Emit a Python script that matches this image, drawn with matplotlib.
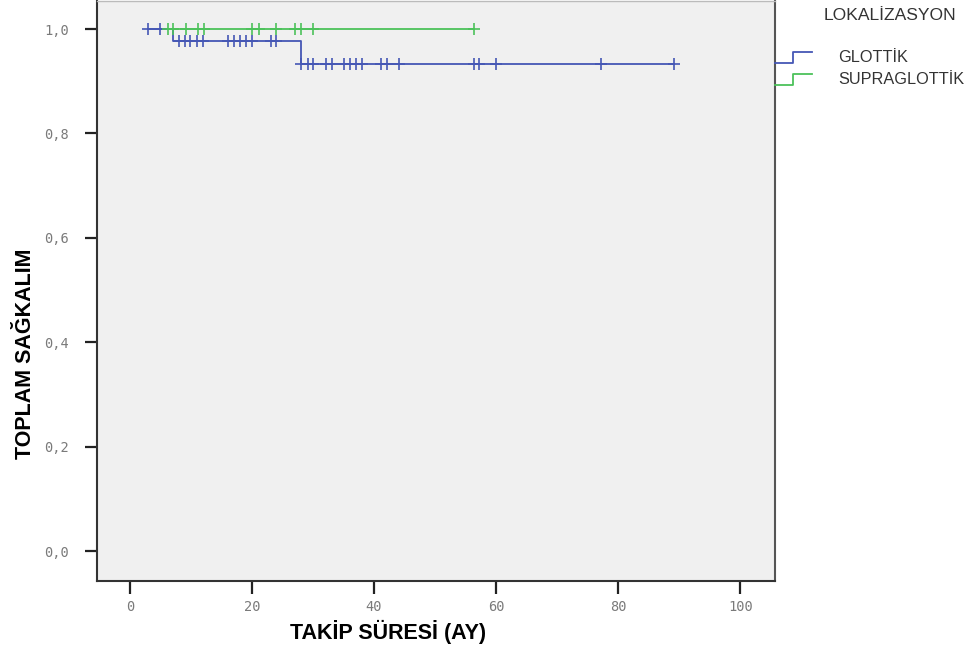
import matplotlib
matplotlib.use("Agg")
import matplotlib.pyplot as plt
from matplotlib.lines import Line2D

# GLOTTİK curve (blue)
glot_steps = [3.0, 7.1, 28.1, 89.2]
glot_surv = [1.0, 0.977, 0.9325, 0.9325]
glot_cens = [3.0, 5.0, 8.0, 9.0, 9.9, 11.0, 12.0, 16.1, 17.0, 18.0, 19.0, 20.0,
             23.1, 23.9, 28.1, 29.1, 30.0, 32.1, 33.1, 35.1, 36.1, 37.0, 38.0,
             41.1, 42.1, 44.1, 56.3, 57.2, 60.0, 77.2, 89.2]

# SUPRAGLOTTİK curve (green)
supra_steps = [6.3, 56.3]
supra_surv = [1.0, 1.0]
supra_cens = [6.3, 7.1, 9.1, 11.2, 12.1, 20.0, 21.1, 24.0, 27.0, 28.0, 30.0, 56.3]

x_ticks = [0, 20, 40, 60, 80, 100]
y_ticks = [0.0, 0.2, 0.4, 0.6, 0.8, 1.0]
y_ticklabels = ["0,0", "0,2", "0,4", "0,6", "0,8", "1,0"]

groups = ["GLOTTİK", "SUPRAGLOTTİK"]
colors = ["#4557b5", "#4cc25a"]


def surv_at(t, steps, surv):
    s = surv[0]
    for tt, ss in zip(steps, surv):
        if t >= tt:
            s = ss
    return s


fig = plt.figure(figsize=(9.79, 6.56), dpi=100)
ax = fig.add_axes([0.0991, 0.1143, 0.6925, 0.8847])
ax.set_facecolor("#f0f0f0")

for steps, surv, cens, c in [(glot_steps, glot_surv, glot_cens, colors[0]),
                             (supra_steps, supra_surv, supra_cens, colors[1])]:
    ax.step(steps, surv, where="post", color=c, lw=1.3)
    ax.plot(cens, [surv_at(t, steps, surv) for t in cens], ls="none",
            marker="+", ms=9, mew=1.2, color=c)

ax.set_xlim(-5.4, 105.7)
ax.set_ylim(-0.0574, 1.0545)
ax.set_xticks(x_ticks)
ax.set_xticklabels([str(v) for v in x_ticks])
ax.set_yticks(y_ticks)
ax.set_yticklabels(y_ticklabels)

for lab in ax.get_xticklabels() + ax.get_yticklabels():
    lab.set_fontfamily("DejaVu Sans Mono")
    lab.set_fontsize(9.8)
    lab.set_color("#7a7a7a")
ax.tick_params(axis="x", length=9, width=1.6, color="#222222", pad=5)
ax.tick_params(axis="y", length=9, width=1.6, color="#222222", pad=11)

for side in ["left", "bottom"]:
    ax.spines[side].set_color("#333333")
    ax.spines[side].set_linewidth(1.5)
ax.spines["right"].set_color("#555555")
ax.spines["right"].set_linewidth(1.5)
ax.spines["top"].set_color("#bbbbbb")
ax.spines["top"].set_linewidth(1.0)

lab_font = ["Liberation Sans", "DejaVu Sans"]
ax.set_xlabel("TAKİP SÜRESİ (AY)", fontsize=15.5, fontweight="bold",
              family=lab_font)
ax.set_ylabel("TOPLAM SAĞKALIM", fontsize=15.5, fontweight="bold",
              family=lab_font)
ax.xaxis.set_label_coords(0.43, -0.088)
ax.yaxis.set_label_coords(-0.106, 0.391)
ax.xaxis.label.set_va("center")
ax.yaxis.label.set_va("center")

# legend (SPSS style, outside the axes)
fig.text(824 / 979, 1 - 15 / 656, "LOKALİZASYON", fontsize=12.6,
         family=lab_font, color="#333333", ha="left", va="center")
leg_y = [57, 79]
for name, c, yy in zip(groups, colors, leg_y):
    fig.text(838 / 979, 1 - yy / 656, name, fontsize=11.7,
             family=lab_font, color="#333333", ha="left", va="center")
    low = 1 - (yy + 6) / 656
    high = 1 - (yy - 5) / 656
    xs = [775 / 979, 793 / 979, 793 / 979, 812 / 979]
    fig.add_artist(Line2D(xs, [low, low, high, high], color=c, lw=1.3,
                          transform=fig.transFigure))

fig.savefig("out.png", dpi=100)
